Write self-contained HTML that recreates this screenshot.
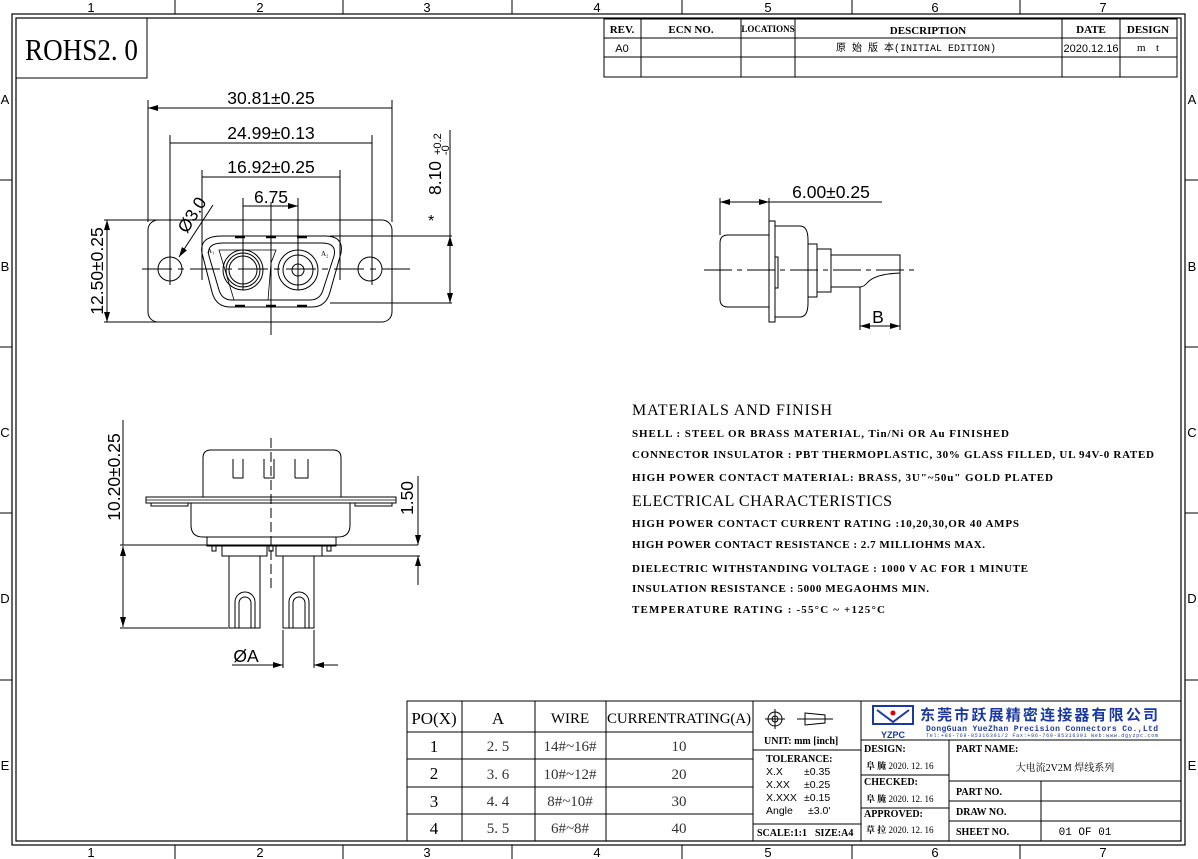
<!DOCTYPE html>
<html><head><meta charset="utf-8"><style>
html,body{margin:0;padding:0;background:#fff;}
svg{display:block}
.s{font-family:"Liberation Sans",sans-serif}
.r{font-family:"Liberation Serif","Noto Serif CJK SC",serif}
.m{font-family:"Liberation Mono","Noto Sans CJK SC",monospace}
</style></head><body>
<svg width="1198" height="859" viewBox="0 0 1198 859" xmlns="http://www.w3.org/2000/svg">
<defs>
<marker id="a" viewBox="0 0 10 6" refX="10" refY="3" markerWidth="10" markerHeight="6" orient="auto-start-reverse" markerUnits="userSpaceOnUse"><path d="M0,0L10,3L0,6z" fill="#000"/></marker>
</defs>
<g fill="none" stroke="#000" stroke-width="1">
<rect x="12" y="14" width="1173" height="831" stroke-width="1.2"/>
<rect x="16" y="18" width="1165" height="823" stroke-width="1.2"/>
<path d="M175,0V14M343,0V14M512,0V14M682,0V14M852,0V14M1020,0V14M175,845V859M343,845V859M512,845V859M682,845V859M852,845V859M1020,845V859M0,180H12M0,347H12M0,513H12M0,680H12M1185,180H1198M1185,347H1198M1185,513H1198M1185,680H1198"/>
<path d="M16,78H147V18"/>
<rect x="604" y="19" width="573" height="58"/>
<path d="M604,38H1177M604,57H1177M641,19V77M741,19V77M795,19V77M1062,19V77M1120,19V77"/>

<rect x="148" y="220" width="244" height="102" rx="10"/>
<circle cx="170" cy="269" r="12"/><circle cx="370" cy="269" r="12"/>
<path d="M222,236H325Q344,236 341,253L330,292Q326,307 312,307H230Q216,307 212,292L202,253Q199,236 222,236Z"/>
<path d="M223,243H322Q337,243 334,256L323,290Q320,300 310,300H232Q222,300 219,290L209,256Q206,243 223,243Z"/>
<path d="M219,250H276L271,263L268,300H234Z" stroke-width="0.8"/>
<circle cx="243" cy="270" r="20"/><circle cx="243" cy="270" r="17"/><circle cx="243" cy="270" r="14"/>
<circle cx="298" cy="270" r="20"/><circle cx="298" cy="270" r="15"/><circle cx="298" cy="270" r="6"/>
<path d="M235,237h10M266,237h10M297,237h10M235,306h10M266,306h10M297,306h10" stroke-width="2.5"/>
<path d="M142,269H410" stroke-dasharray="30,6,6,6"/>
<path d="M148,222V100M392,222V100M170,285V135M372,285V135M202,280V170M340,280V170M243,290V198M298,290V198M271,202V335"/>
<path d="M148,108H392M170,143H372M202,177H340M243,206H298" marker-start="url(#a)" marker-end="url(#a)"/>
<path d="M104,220H310M104,322H160M330,236H452M330,303H452"/>
<path d="M107,220V322" marker-start="url(#a)" marker-end="url(#a)"/>
<path d="M450,236V303" marker-start="url(#a)" marker-end="url(#a)"/>
<path d="M450,236V130"/>
<path d="M213,205L179,257" marker-end="url(#a)"/>

<path d="M769,235H728Q720,235 720,243V299Q720,307 728,307H769"/>
<rect x="769" y="221" width="6" height="101"/>
<rect x="775" y="257" width="3" height="31"/>
<path d="M775,226H800Q808,226 808,240V303Q808,317 800,317H775"/>
<rect x="808" y="244" width="9" height="53"/>
<rect x="817" y="249" width="14" height="43"/>
<path d="M831,255H900V273Q876,274 868,282Q864,287 860,287H831"/>
<path d="M704,270H918" stroke-dasharray="28,5,5,5"/>
<path d="M720,235V198M769,221V198M769,202H882M900,273V330M860,287V330"/>
<path d="M720,202H769" marker-start="url(#a)" marker-end="url(#a)"/>
<path d="M860,326H900" marker-start="url(#a)" marker-end="url(#a)"/>

<path d="M203,497V458Q203,450 211,450H333Q341,450 341,458V497"/>
<path d="M233,478V459M233,478H243V459M264,478V459M264,478H274V459M295,478V459M295,478H308V459"/>
<rect x="146" y="497" width="250" height="6"/>
<path d="M146,500H396" stroke-width="0.7"/>
<rect x="151" y="503" width="37" height="3"/><rect x="355" y="503" width="37" height="3"/>
<path d="M191,503V525Q191,537 203,537H338Q350,537 350,525V503"/>
<rect x="207" y="537" width="129" height="9"/>
<rect x="212" y="546" width="4" height="5"/><rect x="269" y="546" width="4" height="5"/><rect x="327" y="546" width="4" height="5"/>
<rect x="222" y="546" width="45" height="10"/><rect x="276" y="546" width="46" height="10"/>
<rect x="229" y="556" width="31" height="72"/><rect x="283" y="556" width="31" height="72"/>
<path d="M235,628V602A10,10 0 0 1 255,602V628M239,628V603A6,6 0 0 1 251,603V628"/>
<path d="M289,628V602A10,10 0 0 1 309,602V628M293,628V603A6,6 0 0 1 305,603V628"/>
<path d="M271,438V590" stroke-dasharray="10,4"/>
<path d="M120,545H418M120,628H228M320,556H420M418,476V540"/>
<path d="M123,420V545"/>
<path d="M123,546V627" marker-start="url(#a)" marker-end="url(#a)"/>
<path d="M418,510V545" marker-end="url(#a)"/>
<path d="M418,585V556" marker-end="url(#a)"/>
<path d="M283,630V668M314,630V668"/>
<path d="M232,665H283" marker-end="url(#a)"/>
<path d="M338,665H314" marker-end="url(#a)"/>

<rect x="407" y="701" width="346" height="140"/>
<path d="M407,732H753M407,759H753M407,787H753M407,814H753M462,701V841M535,701V841M606,701V841"/>
<rect x="753" y="701" width="428" height="140"/>
<path d="M753,750H861M753,824H861M861,701V841M861,740H1181M861,775H949M861,808H949M949,740V841M949,781H1181M949,801H1181M949,821H1181M1041,781V841"/>
<circle cx="775" cy="719" r="7"/><circle cx="775" cy="719" r="3"/>
<path d="M765,719H785M775,709V729M797,719H833M805,713L825,715V723L805,725Z"/>
<rect x="873" y="706" width="40" height="18" stroke="#1a3aa0" stroke-width="2"/>
<path d="M877,710L893,722L909,710" stroke="#1a3aa0" stroke-width="2"/>
</g>
<circle cx="893" cy="713" r="2.5" fill="#d00"/>

<g class="s" font-size="13" text-anchor="middle">
<text x="91" y="12">1</text><text x="260" y="12">2</text><text x="427" y="12">3</text><text x="597" y="12">4</text><text x="768" y="12">5</text><text x="935" y="12">6</text><text x="1103" y="12">7</text>
<text x="91" y="857">1</text><text x="260" y="857">2</text><text x="427" y="857">3</text><text x="597" y="857">4</text><text x="768" y="857">5</text><text x="935" y="857">6</text><text x="1103" y="857">7</text>
<text x="5" y="104">A</text><text x="5" y="271">B</text><text x="5" y="437">C</text><text x="5" y="603">D</text><text x="5" y="770">E</text>
<text x="1192" y="104">A</text><text x="1192" y="271">B</text><text x="1192" y="437">C</text><text x="1192" y="603">D</text><text x="1192" y="770">E</text>
</g>
<text class="r" x="25" y="60" font-size="31" textLength="113" lengthAdjust="spacingAndGlyphs">ROHS2. 0</text>

<g class="s" font-size="17.5" text-anchor="middle">
<text x="271" y="104">30.81±0.25</text>
<text x="271" y="139">24.99±0.13</text>
<text x="271" y="173">16.92±0.25</text>
<text x="271" y="203">6.75</text>
<text x="831" y="198">6.00±0.25</text>
<text x="878" y="323">B</text>
<text x="246" y="662">ØA</text>
<text transform="translate(103,271) rotate(-90)">12.50±0.25</text>
<text transform="translate(120,477) rotate(-90)">10.20±0.25</text>
<text transform="translate(413,498) rotate(-90)">1.50</text>
<text transform="translate(197,218) rotate(-58)">Ø3.0</text>
<text transform="translate(441,178) rotate(-90)">8.10</text>
</g>
<text class="s" font-size="11" transform="translate(441,155) rotate(-90)">+0.2</text>
<text class="s" font-size="11" transform="translate(449,155) rotate(-90)">-0</text>
<text class="s" font-size="16" x="428" y="226">*</text>
<text class="r" font-size="7" x="207" y="253">A₁</text><text class="r" font-size="7" x="321" y="256">A₂</text>

<g class="r" font-size="11" font-weight="bold" text-anchor="middle">
<text x="622" y="33">REV.</text><text x="691" y="33">ECN NO.</text><text x="768" y="32" font-size="9">LOCATIONS</text><text x="928" y="34">DESCRIPTION</text><text x="1091" y="33">DATE</text><text x="1148" y="33">DESIGN</text>
</g>
<text class="s" x="622" y="52" font-size="11" text-anchor="middle">A0</text>
<text class="m" x="916" y="51" font-size="10" text-anchor="middle">原 始 版 本(INITIAL EDITION)</text>
<text class="s" x="1091" y="52" font-size="11" text-anchor="middle">2020.12.16</text>
<text class="r" x="1137" y="51" font-size="11">m</text><text class="r" x="1156" y="51" font-size="11">t</text>

<g class="r">
<text x="632" y="415" font-size="16" textLength="200">MATERIALS AND FINISH</text>
<text x="632" y="437" font-size="11" font-weight="bold" textLength="377">SHELL : STEEL OR BRASS MATERIAL, Tin/Ni OR Au FINISHED</text>
<text x="632" y="458" font-size="11" font-weight="bold" textLength="522">CONNECTOR INSULATOR : PBT THERMOPLASTIC, 30% GLASS FILLED, UL 94V-0 RATED</text>
<text x="632" y="481" font-size="11" font-weight="bold" textLength="421">HIGH POWER CONTACT MATERIAL: BRASS, 3U"~50u" GOLD PLATED</text>
<text x="632" y="506" font-size="16" textLength="260">ELECTRICAL CHARACTERISTICS</text>
<text x="632" y="527" font-size="11" font-weight="bold" textLength="387">HIGH POWER CONTACT CURRENT RATING :10,20,30,OR 40 AMPS</text>
<text x="632" y="548" font-size="11" font-weight="bold" textLength="353">HIGH POWER CONTACT RESISTANCE : 2.7 MILLIOHMS MAX.</text>
<text x="632" y="572" font-size="11" font-weight="bold" textLength="396">DIELECTRIC WITHSTANDING VOLTAGE : 1000 V AC FOR 1 MINUTE</text>
<text x="632" y="592" font-size="11" font-weight="bold" textLength="297">INSULATION RESISTANCE : 5000 MEGAOHMS MIN.</text>
<text x="632" y="613" font-size="11" font-weight="bold" textLength="253">TEMPERATURE RATING : -55°C ~ +125°C</text>
</g>

<g class="r" text-anchor="middle" font-size="17">
<text x="434" y="724">PO(X)</text><text x="498" y="724">A</text>
<text x="570" y="723" font-size="15">WIRE</text>
<text x="679" y="723" font-size="15" textLength="144">CURRENTRATING(A)</text>
<text x="434" y="752">1</text><text x="434" y="779">2</text><text x="434" y="807">3</text><text x="434" y="834">4</text>
</g>
<g class="r" text-anchor="middle" font-size="15" fill="#333">
<text x="498" y="751">2. 5</text><text x="498" y="779">3. 6</text><text x="498" y="806">4. 4</text><text x="498" y="833">5. 5</text>
<text x="570" y="751">14#~16#</text><text x="570" y="779">10#~12#</text><text x="570" y="806">8#~10#</text><text x="570" y="833">6#~8#</text>
<text x="679" y="751">10</text><text x="679" y="779">20</text><text x="679" y="806">30</text><text x="679" y="833">40</text>
</g>

<g class="r" font-size="10" font-weight="bold">
<text x="764" y="744">UNIT: mm  [inch]</text>
<text x="766" y="762">TOLERANCE:</text>
<text x="757" y="836">SCALE:1:1</text><text x="815" y="836">SIZE:A4</text>
<text x="864" y="752">DESIGN:</text><text x="864" y="785">CHECKED:</text><text x="864" y="817">APPROVED:</text>
<text x="956" y="752">PART NAME:</text><text x="956" y="795">PART NO.</text><text x="956" y="815">DRAW NO.</text><text x="956" y="835">SHEET NO.</text>
</g>
<g class="s" font-size="10.5">
<text x="766" y="775">X.X</text><text x="804" y="775">±0.35</text>
<text x="766" y="788">X.XX</text><text x="804" y="788">±0.25</text>
<text x="766" y="801">X.XXX</text><text x="804" y="801">±0.15</text>
<text x="766" y="814">Angle</text><text x="808" y="814">±3.0'</text>
</g>
<g class="r" font-size="9">
<text x="866" y="769"><tspan font-weight="bold">阜 腌</tspan> 2020. 12. 16</text>
<text x="866" y="802"><tspan font-weight="bold">阜 腌</tspan> 2020. 12. 16</text>
<text x="866" y="833"><tspan font-weight="bold">草 拉</tspan> 2020. 12. 16</text>
</g>
<text class="r" x="1065" y="771" font-size="10" text-anchor="middle">大电流2V2M 焊线系列</text>
<text class="m" x="1085" y="835" font-size="11" text-anchor="middle">01 OF 01</text>
<text class="s" x="893" y="738" font-size="9" font-weight="bold" fill="#1a3aa0" text-anchor="middle">YZPC</text>
<text x="920" y="720" font-family="'Noto Sans CJK SC',sans-serif" font-size="15" font-weight="bold" fill="#1a3aa0" textLength="238">东莞市跃展精密连接器有限公司</text>
<text class="m" x="926" y="731" font-size="8" font-weight="bold" fill="#1a3aa0" textLength="232">DongGuan YueZhan Precision Connectors Co.,Ltd</text>
<text class="m" x="926" y="737" font-size="5" fill="#1a3aa0" textLength="232">Tel:+86-769-85316301/2 Fax:+86-769-85316391 Web:www.dgyzpc.com</text>
</svg>
</body></html>
